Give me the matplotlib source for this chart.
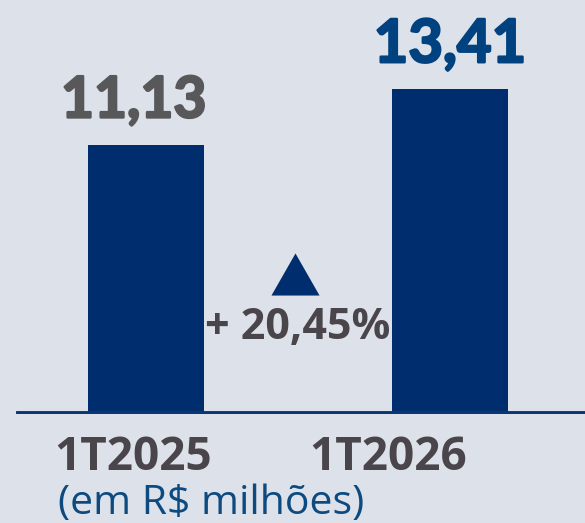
import matplotlib.pyplot as plt
import matplotlib.patheffects as pe

# data
periods = ["1T2025", "1T2026"]
values = [11.13, 13.41]
value_labels = ["11,13", "13,41"]
growth_label = "+ 20,45%"
unit_label = "(em R$ milhões)"

bg = "#dde2ea"
navy = "#002d6d"
gray = "#58585a"
dark_gray = "#4a454b"

fig = plt.figure(figsize=(5.85, 5.23), dpi=100)
fig.patch.set_facecolor(bg)

# axes: y=0 sits on the baseline (~414 px from top), full width
ax = fig.add_axes([0, 109 / 523, 1, 414 / 523])
ax.set_facecolor(bg)
x = [0, 1]
ax.bar(x, values, width=0.382, color=navy, zorder=2)
ax.set_xlim(-0.480, 1.444)
ax.set_ylim(0, 17.1)
ax.axis("off")

# baseline
ax.axhline(0.05, xmin=18 / 585, xmax=1, color="#0b3674", lw=2.8, zorder=3)

# value labels above bars (stroke makes them look extra-bold)
label_colors = [gray, "#00427f"]
label_dx = [-0.04, 0.0]
label_size = [41, 43]
for xi, v, lab, c, dx, fs in zip(x, values, value_labels, label_colors, label_dx, label_size):
    ax.text(xi + dx, v + 1.12, lab, ha="center", va="baseline", fontsize=fs,
            fontweight="bold", family="Lato", color=c,
            path_effects=[pe.withStroke(linewidth=1.8, foreground=c)])

# growth marker between bars
tri = [(-1, -0.875), (1, -0.875), (0, 0.875)]
ax.scatter([0.490], [5.79], marker=tri, s=1200, color=navy, linewidths=0, zorder=3)
ax.text(0.500, 3.10, growth_label, ha="center", va="baseline", fontsize=31,
        fontweight="bold", family="Open Sans", color=dark_gray)

# category labels and unit note
tick_x = [133, 388]
for tx, p in zip(tick_x, periods):
    fig.text(tx / 585, 1 - 470 / 523, p, ha="center", va="baseline",
             fontsize=33, fontweight="bold", family="Open Sans", color=dark_gray)
fig.text(58 / 585, 1 - 514 / 523, unit_label, ha="left", va="baseline",
         fontsize=29.5, family="Open Sans", color="#0d4a80")

fig.savefig("out.png", dpi=100, facecolor=bg)
